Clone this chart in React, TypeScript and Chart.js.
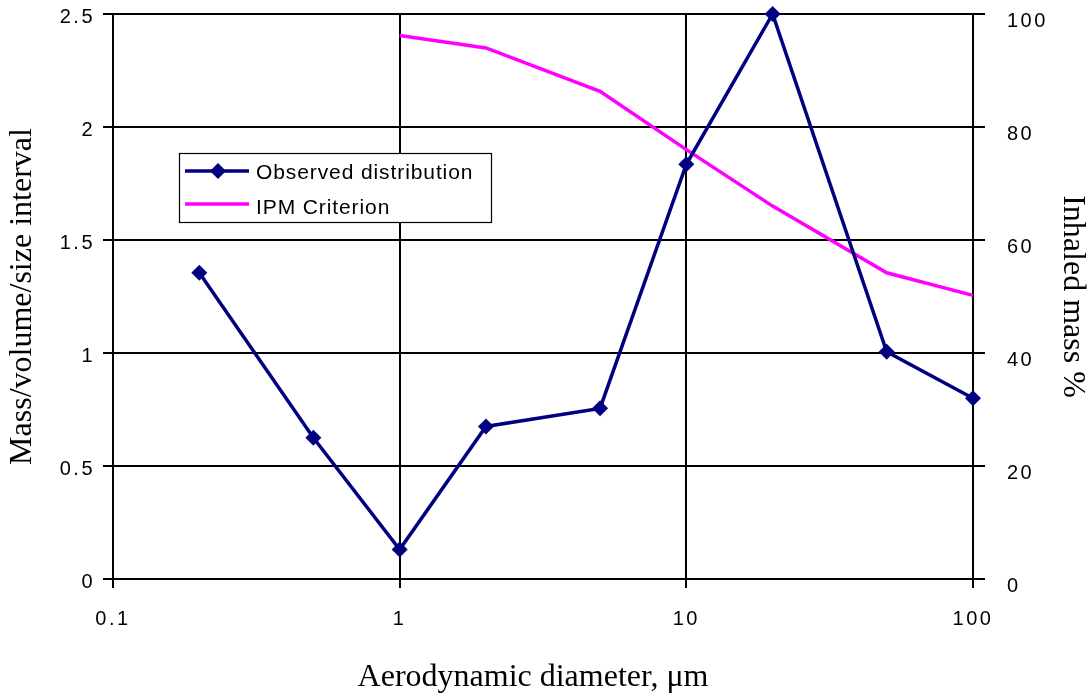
import React, { useEffect, useRef } from "react";
import { Chart, registerables } from "chart.js";

Chart.register(...registerables);

const observedX = [0.2, 0.5, 1, 2, 5, 10, 20, 50, 100];
const observedY = [1.355, 0.625, 0.13, 0.675, 0.755, 1.835, 2.5, 1.005, 0.8];
const ipmX = [1, 2, 5, 10, 20, 50, 100];
const ipmY = [96.2, 94, 86.3, 76, 66, 54.2, 50.2];
const xTicks = [0.1, 1, 10, 100];
const xTickLabels = ["0.1", "1", "10", "100"];
const leftTicks = [0, 0.5, 1, 1.5, 2, 2.5];
const leftTickLabels = ["0", "0.5", "1", "1.5", "2", "2.5"];
const rightTicks = [0, 20, 40, 60, 80, 100];
const rightTickLabels = ["0", "20", "40", "60", "80", "100"];

const seriesNames = ["Observed distribution", "IPM Criterion"];
const NAVY = "#000080";
const PINK = "#FF00FF";

const tickFont = { family: "'Liberation Sans', Arial, sans-serif", size: 20 };

const customPlugin = {
  id: "custom",
  beforeDraw(chart: any) {
    const ctx = chart.ctx;
    ctx.save();
    ctx.fillStyle = "#ffffff";
    ctx.fillRect(0, 0, chart.width, chart.height);
    ctx.restore();
    (ctx as any).letterSpacing = "2.5px";
  },
  afterDraw(chart: any) {
    const ctx = chart.ctx;
    (ctx as any).letterSpacing = "0px";
    const area = chart.chartArea;
    ctx.save();
    // Axis titles
    ctx.fillStyle = "#000";
    ctx.font = "32px 'Liberation Serif', 'Times New Roman', serif";
    ctx.textAlign = "center";
    ctx.textBaseline = "middle";
    ctx.fillText("Aerodynamic diameter, \u03bcm", 533, 678);
    const midY = (area.top + area.bottom) / 2;
    ctx.save();
    ctx.translate(23, midY);
    ctx.rotate(-Math.PI / 2);
    ctx.fillText("Mass/volume/size interval", 0, 0);
    ctx.restore();
    ctx.save();
    ctx.translate(1072, midY);
    ctx.rotate(Math.PI / 2);
    ctx.fillText("Inhaled mass %", 0, 0);
    ctx.restore();

    // Legend
    const bx = 179, by = 153, bw = 312, bh = 69;
    ctx.fillStyle = "#fff";
    ctx.fillRect(bx, by, bw, bh);
    ctx.strokeStyle = "#000";
    ctx.lineWidth = 1.2;
    ctx.strokeRect(bx + 0.5, by + 0.5, bw, bh);
    // row 1
    ctx.strokeStyle = NAVY;
    ctx.lineWidth = 3.5;
    ctx.beginPath();
    ctx.moveTo(185, 171);
    ctx.lineTo(249, 171);
    ctx.stroke();
    ctx.fillStyle = NAVY;
    ctx.beginPath();
    ctx.moveTo(218, 163);
    ctx.lineTo(226, 171);
    ctx.lineTo(218, 179);
    ctx.lineTo(210, 171);
    ctx.closePath();
    ctx.fill();
    // row 2
    ctx.strokeStyle = PINK;
    ctx.beginPath();
    ctx.moveTo(185, 204);
    ctx.lineTo(249, 204);
    ctx.stroke();
    ctx.fillStyle = "#000";
    ctx.font = "21px 'Liberation Sans', Arial, sans-serif";
    (ctx as any).letterSpacing = "0.9px";
    ctx.textAlign = "left";
    ctx.textBaseline = "middle";
    ctx.fillText(seriesNames[0], 256, 173);
    ctx.fillText(seriesNames[1], 256, 208);
    (ctx as any).letterSpacing = "0px";
    ctx.restore();
  },
};

export default function App() {
  const canvasRef = useRef<HTMLCanvasElement | null>(null);

  useEffect(() => {
    document.body.style.margin = "0";
    const canvas = canvasRef.current;
    if (!canvas) return;
    const chart = new Chart(canvas, {
      type: "line",
      data: {
        datasets: [
          {
            label: seriesNames[0],
            data: observedX.map((x, i) => ({ x, y: observedY[i] })),
            borderColor: NAVY,
            backgroundColor: NAVY,
            borderWidth: 3.5,
            pointStyle: "rectRot",
            pointRadius: 8,
            pointBorderWidth: 0,
            pointBackgroundColor: NAVY,
            yAxisID: "y",
            clip: false,
            tension: 0,
          } as any,
          {
            label: seriesNames[1],
            data: ipmX.map((x, i) => ({ x, y: ipmY[i] })),
            borderColor: PINK,
            backgroundColor: PINK,
            borderWidth: 3.5,
            pointRadius: 0,
            yAxisID: "y1",
            clip: false,
            tension: 0,
          } as any,
        ],
      },
      options: {
        responsive: false,
        animation: false,
        events: [],
        layout: { padding: { top: 14, left: 0, right: 0, bottom: 0 } },
        plugins: {
          legend: { display: false },
          tooltip: { enabled: false },
          title: { display: false },
        },
        scales: {
          x: {
            type: "logarithmic",
            min: 0.1,
            max: 100,
            afterBuildTicks: (scale: any) => {
              scale.ticks = xTicks.map((v) => ({ value: v }));
            },
            afterFit: (scale: any) => {
              scale.height = 118;
              scale.paddingLeft = 0;
              scale.paddingRight = 0;
            },
            ticks: {
              color: "#000",
              font: tickFont,
              padding: 19,
              autoSkip: false,
              maxRotation: 0,
              minRotation: 0,
              callback: (v: any) => {
                const i = xTicks.indexOf(Number(v));
                return i >= 0 ? xTickLabels[i] : "";
              },
            },
            grid: {
              color: "#000",
              lineWidth: 2,
              tickLength: 9,
              tickColor: "#000",
              tickWidth: 2,
            },
            border: { color: "#000", width: 2 },
          },
          y: {
            type: "linear",
            position: "left",
            min: 0,
            max: 2.5,
            afterBuildTicks: (scale: any) => {
              scale.ticks = leftTicks.map((v) => ({ value: v }));
            },
            afterFit: (scale: any) => {
              scale.width = 113;
              scale.paddingTop = 0;
              scale.paddingBottom = 0;
            },
            ticks: {
              color: "#000",
              font: tickFont,
              padding: 8,
              labelOffset: 3,
              callback: (v: any) => {
                const i = leftTicks.indexOf(Number(v));
                return i >= 0 ? leftTickLabels[i] : "";
              },
            },
            grid: {
              color: "#000",
              lineWidth: 2,
              tickLength: 10,
              tickColor: "#000",
              tickWidth: 2,
            },
            border: { color: "#000", width: 2 },
          },
          y1: {
            type: "linear",
            position: "right",
            min: 0,
            max: 100,
            afterBuildTicks: (scale: any) => {
              scale.ticks = rightTicks.map((v) => ({ value: v }));
            },
            afterFit: (scale: any) => {
              scale.width = 118;
              scale.paddingTop = 0;
              scale.paddingBottom = 0;
            },
            ticks: {
              color: "#000",
              font: tickFont,
              padding: 22,
              labelOffset: 7,
              callback: (v: any) => {
                const i = rightTicks.indexOf(Number(v));
                return i >= 0 ? rightTickLabels[i] : "";
              },
            },
            grid: {
              drawOnChartArea: false,
              color: "#000",
              lineWidth: 2,
              tickLength: 12,
              tickColor: "#000",
              tickWidth: 2,
            },
            border: { color: "#000", width: 2 },
          },
        },
      } as any,
      plugins: [customPlugin],
    });
    return () => chart.destroy();
  }, []);

  return (
    <div style={{ width: 1091, height: 697 }}>
      <canvas ref={canvasRef} width={1091} height={697} style={{ display: "block" }} />
    </div>
  );
}
